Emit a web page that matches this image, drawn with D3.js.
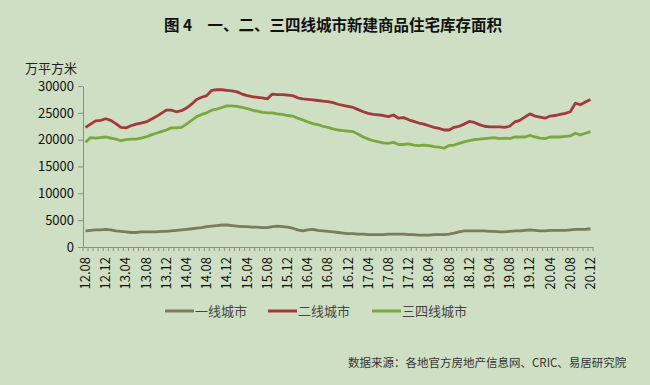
<!DOCTYPE html>
<html>
<head>
<meta charset="utf-8">
<script src="https://cdn.jsdelivr.net/npm/d3@7"></script>
<style>
  body { margin: 0; background: #cfdfc3; }
  svg { display: block; }
  text { font-family: "Noto Sans CJK SC", "Noto Sans", sans-serif; }
</style>
</head>
<body>
<svg id="chart"></svg>
<script>
// 月份 12.08 ~ 20.12，每4个月标一次
var tickLabels = ['12.08','12.12','13.04','13.08','13.12','14.04','14.08','14.12','15.04','15.08','15.12','16.04','16.08',
  '16.12','17.04','17.08','17.12','18.04','18.08','18.12','19.04','19.08','19.12','20.04','20.08','20.12'];

var seriesNames = ['一线城市', '二线城市', '三四线城市'];

// 一线城市
var tier1 = [3000,3100,3200,3200,3300,3200,3000,2900,2800,2700,2700,2800,2800,2800,2800,2900,2900,3000,3100,3200,
  3300,3400,3500,3600,3800,3900,4000,4100,4100,4000,3900,3800,3800,3700,3700,3600,3600,3800,3900,3800,
  3700,3500,3200,3000,3200,3300,3100,3000,2900,2800,2700,2600,2500,2500,2400,2400,2300,2300,2300,2300,
  2400,2400,2400,2400,2300,2300,2200,2200,2200,2300,2300,2300,2400,2600,2800,3000,3000,3000,3000,3000,
  2900,2900,2800,2800,2900,3000,3000,3100,3200,3100,3000,3000,3100,3100,3100,3100,3200,3300,3300,3300,3400];
// 二线城市
var tier2 = [22300,22900,23500,23600,23900,23600,23000,22300,22200,22600,22900,23100,23300,23800,24300,24900,25500,25500,25200,25400,
  25900,26600,27500,27900,28200,29200,29300,29300,29200,29100,28900,28500,28200,28000,27900,27800,27600,28500,28400,28400,
  28300,28200,27800,27600,27500,27400,27300,27200,27100,26900,26600,26400,26200,26000,25600,25200,24900,24700,24600,24500,
  24300,24600,24000,24100,23700,23400,23100,22900,22600,22300,22100,21800,21800,22300,22500,22900,23400,23200,22800,22500,
  22400,22400,22400,22300,22500,23300,23600,24200,24800,24400,24200,24000,24400,24500,24700,24900,25200,26800,26500,27000,27500];
// 三四线城市
var tier3 = [19500,20400,20300,20400,20500,20300,20100,19800,20000,20100,20100,20300,20500,20900,21200,21500,21800,22200,22200,22300,
  22900,23600,24300,24700,25000,25500,25700,26000,26300,26300,26200,26000,25800,25500,25300,25100,25000,25000,24800,24700,
  24500,24400,24000,23700,23300,23000,22800,22500,22300,22000,21800,21700,21600,21500,21000,20500,20100,19800,19600,19400,
  19300,19500,19100,19100,19200,19000,18900,19000,18900,18700,18600,18400,18900,19000,19300,19600,19800,20000,20100,20200,
  20300,20400,20200,20300,20200,20500,20500,20500,20800,20500,20300,20200,20500,20500,20500,20600,20700,21200,20900,21200,21500];

var yTicks = [0, 5000, 10000, 15000, 20000, 25000, 30000];

// 月份类别
var months = [];
for (var y = 12, m = 8; months.length < tier1.length; m++) {
  if (m > 12) { m = 1; y++; }
  months.push(y + '.' + (m < 10 ? '0' + m : m));
}

var width = 650, height = 385;
var margin = {top: 86, right: 57, bottom: 138, left: 83};
var inner_width = width - margin.left - margin.right;
var inner_height = height - margin.top - margin.bottom;

var svg = d3.select('#chart').attr('width', width).attr('height', height);

svg.append('rect').attr('width', width).attr('height', height).attr('fill', '#cfdfc3');

svg.append('text')
  .attr('x', 333).attr('y', 31)
  .attr('text-anchor', 'middle')
  .attr('font-size', 15.5).attr('font-weight', 'bold').attr('fill', '#111')
  .text('图 4\u3000一、二、三四线城市新建商品住宅库存面积');

svg.append('text')
  .attr('x', 25).attr('y', 73)
  .attr('font-size', 13).attr('fill', '#222')
  .text('万平方米');

var chart = svg.append('g').attr('transform', `translate(${margin.left}, ${margin.top})`);

var xscale = d3.scalePoint().domain(months).range([0, inner_width]).padding(0.5);
var xband = d3.scaleBand().domain(months).range([0, inner_width]);
var yscale = d3.scaleLinear().domain([0, 30000]).range([inner_height, 0]);

// y axis
var yaxis = d3.axisLeft(yscale).tickValues(yTicks).tickFormat(d3.format('d'))
  .tickSize(5).tickPadding(4).tickSizeOuter(0);
var yg = chart.append('g').call(yaxis);
yg.selectAll('text').attr('font-family', 'Lato, "Noto Sans", sans-serif').attr('font-size', 13).attr('fill', '#111');
yg.selectAll('line, path').attr('stroke', '#8c8c8c');

// x axis: 每个月一个刻度
var xaxis = d3.axisBottom(xband).tickSize(0).tickFormat('');
var xg = chart.append('g').attr('transform', `translate(0, ${inner_height})`).call(xaxis);
xg.select('path').attr('stroke', '#8c8c8c');
xg.selectAll('.tk').data(months.concat(['end'])).enter().append('line')
  .attr('x1', (d, i) => i * xband.step()).attr('x2', (d, i) => i * xband.step())
  .attr('y1', 0).attr('y2', 4)
  .attr('stroke', '#8c8c8c');

xg.selectAll('.lbl').data(tickLabels).enter().append('text')
  .attr('transform', d => `translate(${xscale(d) + 4.5}, 10) rotate(-90)`)
  .attr('text-anchor', 'end')
  .attr('font-family', 'Lato, "Noto Sans", sans-serif')
  .attr('font-size', 13).attr('fill', '#111')
  .text(d => d);

// lines
var colors = ['#7b7b5e', '#a3393a', '#7aa83e'];
var allSeries = [tier1, tier2, tier3];
var line = d3.line().x((d, i) => xscale(months[i])).y(d => yscale(d));

chart.selectAll('.series').data(allSeries).enter().append('path')
  .attr('d', d => line(d))
  .attr('fill', 'none')
  .attr('stroke', (d, i) => colors[i])
  .attr('stroke-width', 2.8)
  .attr('stroke-linejoin', 'round');

// legend
var legendX = [165, 268, 372];
var legend = svg.append('g').attr('transform', 'translate(0, 311)');
seriesNames.forEach(function (name, i) {
  legend.append('line')
    .attr('x1', legendX[i]).attr('x2', legendX[i] + 29)
    .attr('y1', 0).attr('y2', 0)
    .attr('stroke', colors[i]).attr('stroke-width', 3);
  legend.append('text')
    .attr('x', legendX[i] + 30).attr('y', 5)
    .attr('font-size', 13).attr('fill', '#444')
    .text(name);
});

svg.append('text')
  .attr('x', 348).attr('y', 367)
  .attr('font-size', 11.5).attr('fill', '#333')
  .text('数据来源：各地官方房地产信息网、CRIC、易居研究院');
</script>
</body>
</html>
